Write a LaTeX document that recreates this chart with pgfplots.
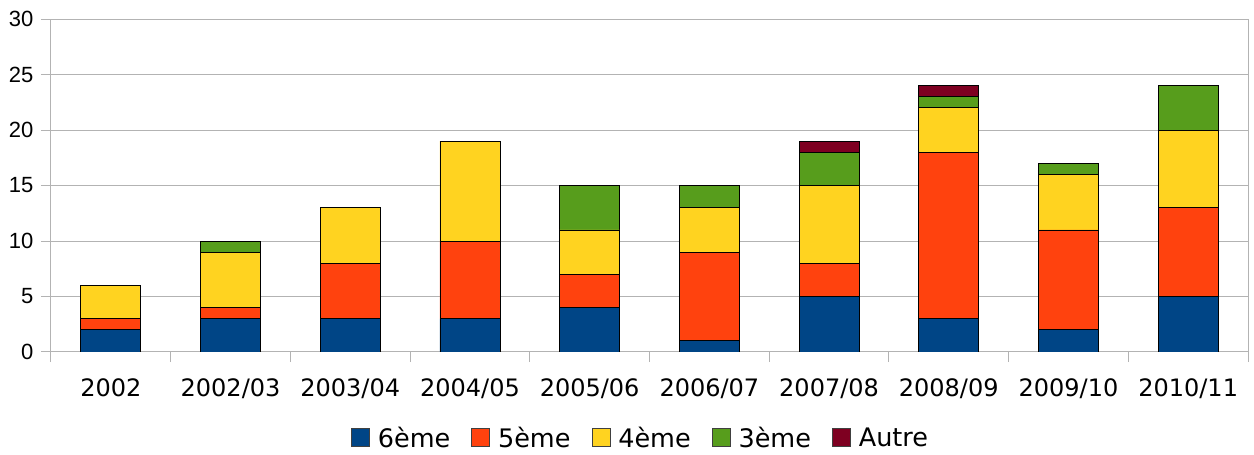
\documentclass[border=0pt]{standalone}
\usepackage{pgfplots}
\usepackage{pgfplotstable}
\pgfplotsset{compat=1.18}
\usepackage{fontspec}
\setmainfont{DejaVu Sans}
\newfontfamily\tickfont{Liberation Sans}
\definecolor{c6}{HTML}{004586}
\definecolor{c5}{HTML}{FF420E}
\definecolor{c4}{HTML}{FFD320}
\definecolor{c3}{HTML}{579D1C}
\definecolor{cA}{HTML}{7E0021}
\definecolor{gridc}{HTML}{B3B3B3}
\pgfplotstableread{
x s6 s5 s4 s3 sA
0 2 1 3 0 0
1 3 1 5 1 0
2 3 5 5 0 0
3 3 7 9 0 0
4 4 3 4 4 0
5 1 8 4 2 0
6 5 3 7 3 1
7 3 15 4 1 1
8 2 9 5 1 0
9 5 8 7 4 0
}\datatable
\begin{document}
\begin{tikzpicture}
\begin{axis}[
  scale only axis,
  width=1197pt, height=333pt,
  ybar stacked, bar width=60pt,
  xmin=-0.5, xmax=9.5, ymin=0, ymax=30,
  ytick={0,5,...,30},
  xtick={-0.5,0.5,...,9.5},
  xticklabels={2002,2002/03,2003/04,2004/05,2005/06,2006/07,2007/08,2008/09,2009/10,2010/11,{}},
  xtick pos=bottom, ytick pos=left,
  major tick length=10pt,
  tick align=outside,
  tick style={gridc, line width=1pt},
  ymajorgrids, grid style={gridc, line width=1pt},
  axis line style={gridc, line width=1pt},
  xticklabel style={font=\fontsize{24}{28}\selectfont, xshift=59.85pt, yshift=-13pt},
  yticklabel style={font=\tickfont\fontsize{22}{26}\selectfont, xshift=-4pt},
  /pgf/number format/assume math mode=true,
  every axis plot/.append style={draw=black, line width=0.8pt},
  legend style={draw=none, at={(0.4925,-0.258)}, anchor=center, legend columns=5,
    font=\fontsize{25.5}{30}\selectfont,
    /tikz/every even column/.append style={column sep=19pt},
    /tikz/every odd column/.append style={column sep=6pt}},
  legend image code/.code={\draw[#1, draw=black!75, line width=0.8pt] (0pt,-8pt) rectangle (18pt,10pt);},
]
\addplot[fill=c6] table[x=x,y=s6]{\datatable};
\addplot[fill=c5] table[x=x,y=s5]{\datatable};
\addplot[fill=c4] table[x=x,y=s4]{\datatable};
\addplot[fill=c3] table[x=x,y=s3]{\datatable};
\addplot[fill=cA] table[x=x,y=sA]{\datatable};
\legend{6ème,5ème,4ème,3ème,Autre}
\end{axis}
\pgfresetboundingbox
\path (current axis.south west) ++(-51pt,-103pt) rectangle ++(1254pt,455pt);
\end{tikzpicture}
\end{document}
